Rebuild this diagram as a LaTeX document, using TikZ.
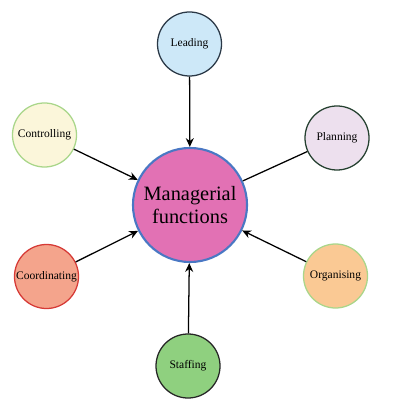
\documentclass[tikz,border=0pt]{standalone}
\usepackage{fontspec}
\setmainfont{Liberation Serif}
\usetikzlibrary{arrows.meta}
\definecolor{mfpink}{HTML}{E271B4}
\definecolor{mfblue}{HTML}{4A78C4}
\definecolor{leadfill}{HTML}{CDE8F8}
\definecolor{ctrlfill}{HTML}{FBF6DA}
\definecolor{planfill}{HTML}{EDE0EE}
\definecolor{coordfill}{HTML}{F4A48C}
\definecolor{orgfill}{HTML}{FAC994}
\definecolor{stafffill}{HTML}{8FD07F}
\definecolor{lightgreen}{HTML}{A9D68A}
\definecolor{darkslate}{HTML}{2A3846}
\definecolor{darkgreen}{HTML}{24402F}
\definecolor{coordred}{HTML}{D63A36}
\tikzset{
  fn/.style={circle,draw=#1,line width=.9pt,minimum size=1.6cm,inner sep=0pt,font=\fontsize{8.2}{10}\selectfont},
  link/.style={line width=.9pt,-{Stealth[length=2.2mm,width=2mm]}}
}
\begin{document}
\begin{tikzpicture}[x=.025cm,y=-.025cm]
\useasboundingbox(0,0)rectangle(401,411);
\node[circle,draw=mfblue,fill=mfpink,line width=1.5pt,minimum size=2.85cm,align=center,font=\fontsize{14.5}{16}\selectfont](mf)at(190,205){Managerial\\functions};
\node[fn=darkslate,fill=leadfill](lead)at(189.5,44){Leading};
\node[fn=lightgreen,fill=ctrlfill](ctrl)at(44.5,135){Controlling};
\node[fn=darkgreen,fill=planfill](plan)at(337,138){Planning};
\node[fn=coordred,fill=coordfill](coord)at(46.5,276.5){Coordinating};
\node[fn=lightgreen,fill=orgfill](org)at(335.5,276){Organising};
\node[fn=black!85,fill=stafffill](staff)at(188,366){Staffing};
\draw[link](lead)--(mf);
\draw[link](ctrl)--(mf);
\draw[line width=.9pt](plan)--(mf);
\draw[link](coord)--(mf);
\draw[link](org)--(mf);
\draw[link](staff)--(mf);
\end{tikzpicture}
\end{document}
